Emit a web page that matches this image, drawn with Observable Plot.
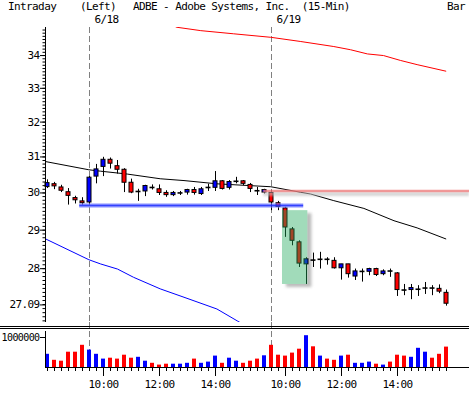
<!DOCTYPE html>
<html><head><meta charset="utf-8">
<script src="https://cdn.jsdelivr.net/npm/d3@7"></script>
<script src="https://cdn.jsdelivr.net/npm/@observablehq/plot@0.6"></script>
<style>
body{margin:0;background:#fff;}
#wrap{position:relative;width:469px;height:394px;overflow:hidden;font-family:"DejaVu Sans Mono",monospace;font-size:11px;letter-spacing:-0.6px;color:#000;}
.hd{position:absolute;top:1px;white-space:pre;line-height:12px;}
#main,#vol{position:absolute;left:0;}
#main{top:0}
#vol{top:322px}
.sep{position:absolute;left:0;width:469px;height:1px;background:#000;}
#wrap svg text{letter-spacing:-0.6px;}
</style></head><body>
<div id="wrap">
  <div id="main"></div>
  <div id="vol"></div>
  <div class="sep" style="top:326px"></div>
  <div class="sep" style="top:328px"></div>
  <div class="hd" style="left:8px">Intraday</div>
  <div class="hd" style="left:80px">(Left)</div>
  <div class="hd" style="left:133px">ADBE - Adobe Systems, Inc.  (15-Min)</div>
  <div class="hd" style="left:447px">Bar</div>
</div>
<script>
// 15-minute bars: 6/17 (last 6 bars), 6/18 (26 bars), 6/19 (26 bars)
const open  = [30.16,30.24,30.15,30.02,29.86,29.77, 29.74,30.45,30.72,30.92,30.74,30.64,30.28,30.04,30.04,30.15,30.10,30.00,29.94,30.00,30.01,30.08,29.97,30.15,30.14,30.32,30.14,30.32,30.32,30.22,30.06,30.01, 30.00,29.72,29.58,29.02,28.68,28.11,28.22,28.24,28.24,28.20,28.01,28.11,27.80,27.93,27.92,27.99,27.86,27.94,27.88,27.46,27.46,27.48,27.51,27.51,27.49,27.39];
const high  = [30.36,30.29,30.21,30.12,29.91,29.87, 30.45,30.79,30.99,30.97,30.90,30.67,30.38,30.10,30.21,30.22,30.22,30.06,30.04,30.04,30.10,30.15,30.15,30.24,30.59,30.34,30.34,30.43,30.34,30.26,30.15,30.10, 30.06,29.77,29.61,29.07,28.72,28.28,28.40,28.42,28.28,28.28,28.11,28.11,27.99,27.99,28.01,28.01,27.97,27.99,27.90,27.60,27.60,27.57,27.65,27.57,27.59,27.46];
const low   = [30.12,30.09,30.01,29.67,29.70,29.67, 29.67,30.25,30.45,30.66,30.52,30.01,29.98,29.77,29.90,30.08,29.93,29.88,29.90,29.93,29.94,29.94,29.93,30.04,30.04,30.08,30.08,30.25,30.20,30.01,29.93,29.97, 29.52,29.52,28.81,28.59,28.03,27.60,28.03,27.99,28.09,27.99,27.71,27.76,27.70,27.66,27.82,27.80,27.82,27.78,27.30,27.32,27.22,27.30,27.35,27.32,27.37,27.06];
const close = [30.27,30.18,30.06,29.92,29.80,29.72, 30.42,30.65,30.92,30.81,30.64,30.28,30.01,30.04,30.19,30.15,30.00,29.94,30.00,30.00,30.08,30.00,30.10,30.15,30.32,30.11,30.30,30.32,30.25,30.11,30.06,30.08, 29.74,29.62,29.07,28.72,28.13,28.24,28.22,28.24,28.24,28.01,28.11,27.86,27.93,27.93,27.99,27.84,27.93,27.94,27.46,27.46,27.51,27.48,27.51,27.51,27.42,27.12];
const volume = [440000,240000,210000,510000,510000,740000, 580000,440000,280000,310000,280000,410000,310000,340000,210000,140000,80000,110000,110000,110000,140000,280000,140000,180000,380000,140000,310000,210000,140000,210000,280000,390000, 740000,410000,380000,480000,610000,1060000,690000,380000,280000,240000,380000,410000,140000,140000,180000,110000,80000,180000,410000,380000,340000,640000,510000,310000,440000,680000];
const volumeDir = ["U","D","D","D","D","D", "U","U","U","D","D","D","D","U","U","D","D","D","U","U","U","D","U","U","U","D","U","U","D","D","D","U", "D","D","D","D","D","U","D","U","D","D","U","D","U","U","U","D","U","D","D","D","U","U","U","D","D","D"];
// session starts (bar index of 9:30) and date labels
const sessionStart = [6, 32];
const sessionLabel = ["6/18", "6/19"];
// hour ticks
const hourTicks  = [8, 16, 24, 34, 42, 50];
const hourLabels = ["10:00","12:00","14:00","10:00","12:00","14:00"];
// price axis
const priceTicks = [27.09, 28, 29, 30, 31, 32, 33, 34];
const volumeTicks = [1000000];
// moving-average style lines: [bar position, price]
const maBlackX = [-0.28, 5.9, 7.6, 11.4, 16.1, 19.5, 24.2, 29.0, 31.9, 36.1, 37.6, 40.9, 45.2, 49.5, 52.8, 56.9];
const maBlackY = [30.87, 30.64, 30.60, 30.52, 30.39, 30.34, 30.25, 30.20, 30.17, 30.02, 29.97, 29.79, 29.58, 29.25, 29.06, 28.77];
const maBlueX  = [-0.28, 5.9, 7.6, 10.0, 12.3, 16.1, 19.5, 24.2, 27.1, 28.3];
const maBlueY  = [28.77, 28.23, 28.12, 27.99, 27.78, 27.49, 27.28, 26.99, 26.70, 26.58];
const maRedX   = [18.0, 18.4, 21.9, 26.6, 31.9, 36.1, 40.9, 43.3, 45.7, 48.0, 50.4, 52.8, 56.9];
const maRedY   = [34.95, 34.89, 34.78, 34.68, 34.57, 34.44, 34.28, 34.18, 34.05, 34.00, 33.85, 33.72, 33.52];
// drawn objects
const supportLine = [{x1: 4.6, x2: 36.6, price: 29.66}];
const resistLine  = [{x1: 30.9, x2: 60.29, price: 30.05}];
const highlightBox = [{x1: 33.57, x2: 37.19, top: 29.52, bottom: 27.60}];

const UP = "#0000ff", DOWN = "#ff0000";
const xDomain = [-2/7, 422/7];
const bars = open.map((o, i) => ({i, open: o, high: high[i], low: low[i], close: close[i]}));
const bodies = bars.filter(d => d.open !== d.close);
const dojis = bars.filter(d => d.open === d.close);
const vols = volume.map((v, i) => ({i, v, dir: volumeDir[i]}));
const line = (xs, ys) => xs.map((x, k) => ({x, y: ys[k]}));
const hw = 2/7;
const font = {background: "transparent", fontFamily: "DejaVu Sans Mono", fontSize: "11px", color: "#000"};

const main = Plot.plot({
  width: 469, height: 322, marginTop: 27, marginBottom: 0, marginLeft: 45, marginRight: 0,
  style: font,
  x: {domain: xDomain, axis: null},
  y: {type: "log", domain: [26.66, 34.88]},
  color: {type: "identity"},
  marks: [
    Plot.ruleX(sessionStart, {stroke: "#808080", strokeDasharray: "6,3"}),
    Plot.line(line(maBlackX, maBlackY), {x: "x", y: "y", stroke: "#000", strokeWidth: 1, clip: true}),
    Plot.line(line(maBlueX, maBlueY), {x: "x", y: "y", stroke: "#0000ff", strokeWidth: 1, clip: true}),
    Plot.line(line(maRedX, maRedY), {x: "x", y: "y", stroke: "#ff0000", strokeWidth: 1, clip: true}),
    Plot.rect(highlightBox, {x1: "x1", x2: "x2", y1: "top", y2: "bottom", fill: "#777", fillOpacity: 0.5, dx: 4, dy: 3, imageFilter: "blur(1.5px)"}),
    Plot.rect(highlightBox, {x1: "x1", x2: "x2", y1: "top", y2: "bottom", fill: "#fff"}),
    Plot.ruleX(bars, {x: "i", y1: "low", y2: "high", stroke: "#000"}),
    Plot.rect(bodies, {x1: d => d.i - hw, x2: d => d.i + hw, y1: "open", y2: "close", fill: d => d.close > d.open ? UP : DOWN, stroke: "#000"}),
    Plot.ruleY(dojis, {y: "close", x1: d => d.i - hw - 0.07, x2: d => d.i + hw + 0.07, stroke: "#000", strokeWidth: 1.6}),
    Plot.ruleY(supportLine, {y: "price", x1: "x1", x2: "x2", stroke: "#8890ff", strokeWidth: 5, strokeOpacity: 0.5}),
    Plot.ruleY(supportLine, {y: "price", x1: "x1", x2: "x2", stroke: "#1020ff", strokeWidth: 2, strokeOpacity: 0.8}),
    Plot.ruleY(resistLine, {y: "price", x1: "x1", x2: "x2", stroke: "#bdbdbd", strokeWidth: 4, strokeOpacity: 0.6, dy: 3, imageFilter: "blur(1px)"}),
    Plot.ruleY(resistLine, {y: "price", x1: "x1", x2: "x2", stroke: "#ee7777", strokeWidth: 2.5, strokeOpacity: 0.75}),
    Plot.rect(highlightBox, {x1: "x1", x2: "x2", y1: "top", y2: "bottom", fill: "#1faa5a", fillOpacity: 0.42}),
    Plot.ruleX([xDomain[0]], {stroke: "#000"}),
    Plot.axisY({ticks: d3.range(267, 349).map(v => v / 10), tickSize: 2.5, tickFormat: () => "", label: null}),
    Plot.axisY({ticks: priceTicks, tickSize: 5, tickPadding: 1, tickFormat: d => String(d), label: null}),
    Plot.text(sessionStart, {x: d => d, text: (d, k) => sessionLabel[k], frameAnchor: "top", textAnchor: "start", lineAnchor: "bottom", dx: 5, dy: -5})
  ]
});
document.getElementById("main").append(main);

const vol = Plot.plot({
  width: 469, height: 72, marginTop: 9, marginBottom: 27, marginLeft: 45, marginRight: 0,
  style: font,
  x: {domain: xDomain},
  y: {domain: [0, 1200000]},
  color: {type: "identity"},
  marks: [
    Plot.ruleX(sessionStart, {stroke: "#808080", strokeDasharray: "6,3", insetTop: -9}),
    Plot.rect(vols, {x1: d => d.i - hw, x2: d => d.i + hw, y1: 0, y2: "v", fill: d => d.dir === "U" ? UP : DOWN}),
    Plot.ruleY([0], {stroke: "#000"}),
    Plot.ruleX([xDomain[0]], {stroke: "#000"}),
    Plot.axisY({ticks: volumeTicks, tickSize: 5, tickPadding: 1, fontSize: 10, tickFormat: d => String(d), label: null}),
    Plot.axisX({ticks: d3.range(open.length), tickSize: 4, tickFormat: () => "", label: null}),
    Plot.axisX({ticks: hourTicks, tickSize: 9, tickPadding: 4, tickFormat: d => hourLabels[hourTicks.indexOf(d)], label: null})
  ]
});
document.getElementById("vol").append(vol);
</script>
</body></html>
